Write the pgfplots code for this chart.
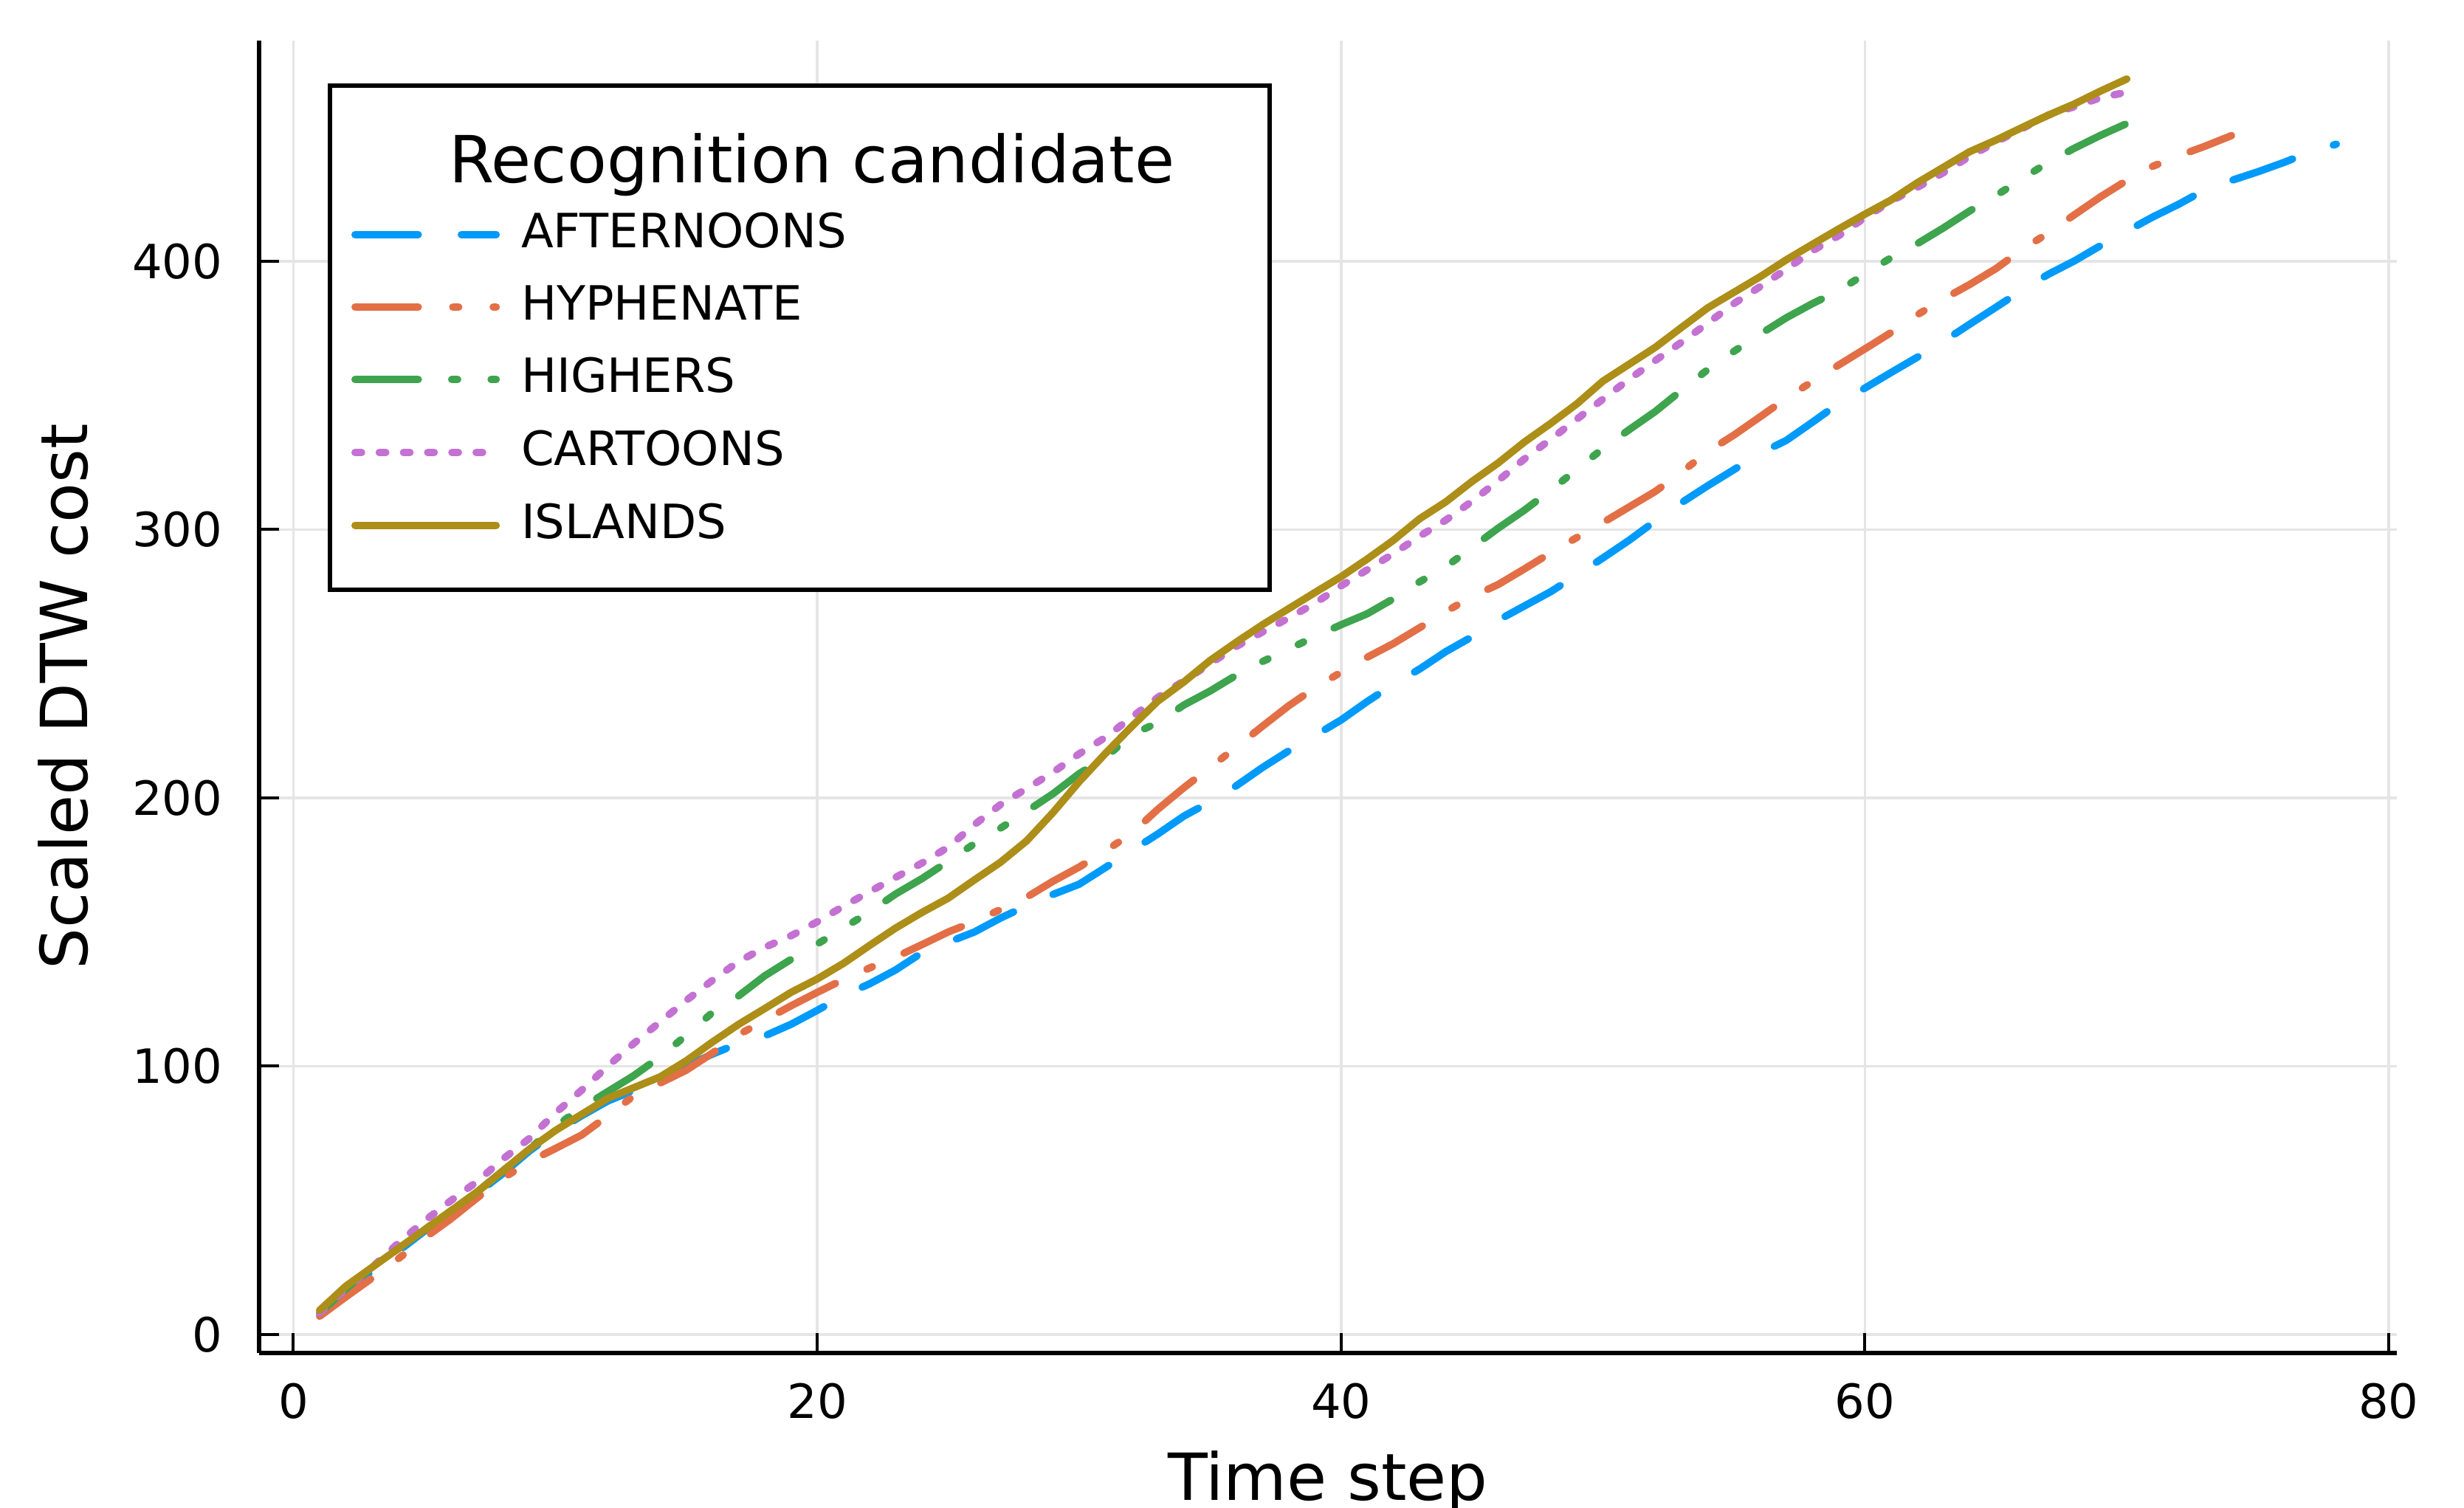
\documentclass[border=0pt]{standalone}
\usepackage{fontspec}
\setmainfont{DejaVu Sans}
\usepackage{pgfplots}
\pgfplotsset{compat=1.18}
\definecolor{cA}{RGB}{0,154,250}
\definecolor{cB}{RGB}{227,111,71}
\definecolor{cC}{RGB}{62,164,78}
\definecolor{cD}{RGB}{195,113,210}
\definecolor{cE}{RGB}{172,142,24}
\begin{document}
\begin{tikzpicture}
\begin{axis}[
  at={(0,0)}, anchor=south west,
  scale only axis, width=362pt, height=222.25pt,
  xmin=-1.31, xmax=80.31, ymin=-6.9, ymax=482.2,
  axis x line*=bottom, axis y line*=left,
  axis line style={line width=0.75pt, -},
  xtick={0,20,40,60,80}, ytick={0,100,200,300,400},
  tick align=inside, major tick length=3.4pt,
  tick style={line width=0.5pt, black},
  grid=major, major grid style={line width=0.45pt, black!10},
  /pgf/number format/assume math mode=true,
  ticklabel style={font=\fontsize{8}{9.6}\selectfont},
  xticklabel style={anchor=north, inner sep=0pt, yshift=-4.9pt},
  yticklabel style={anchor=east, inner sep=0pt, xshift=-6pt},
  xlabel={Time step}, ylabel={Scaled DTW cost},
  every axis x label/.style={at={(rel axis cs:0.5,-0.11204)}, anchor=base, inner sep=0pt, font=\fontsize{11}{13}\selectfont},
  every axis y label/.style={at={(rel axis cs:-0.0804,0.5)}, anchor=base, rotate=90, inner sep=0pt, font=\fontsize{11}{13}\selectfont},
  legend cell align=left,
  legend image code/.code={\draw[#1] (0pt,0pt) -- (23.9pt,0pt);},
  legend style={draw=none, fill=none, at={(rel axis cs:0.04316,0.869)}, anchor=north west,
    inner sep=0pt, outer sep=0pt, row sep=4.9pt, column sep=3.6pt,
    font=\fontsize{8}{9.6}\selectfont, nodes={inner sep=0pt}},
  every axis plot/.append style={line width=1.25pt, line cap=round, line join=round},
]
\filldraw[fill=white, draw=black, line width=0.8pt] (rel axis cs:0.03315,0.5816) rectangle (rel axis cs:0.4727,0.9657);
\node[anchor=base, inner sep=0pt, font=\fontsize{11}{13}\selectfont] at (rel axis cs:0.2586,0.892) {Recognition candidate};

\addplot[cA, dash pattern=on 10.7pt off 7.3pt] coordinates {
(1,7.9)(2,16)(3,23.5)(4,31)(5,38.5)(6,46)(7,52.5)(8,60)(9,68.3)(10,75.5)
(11,81.5)(12,87)(13,91)(14,95)(15,100)(16,104.5)(17,108.5)(18,111.3)(19,115.6)(20,120.8)
(21,126.3)(22,130.7)(23,135.9)(24,142.3)(25,146.2)(26,150)(27,155.2)(28,159.8)(29,164)(30,167.8)
(31,174)(32,180.3)(33,186.5)(34,193.2)(35,198.5)(36,204.5)(37,211.3)(38,217.5)(39,223.2)(40,229)
(41,235.9)(42,242.3)(43,248)(44,254.5)(45,260)(46,266.2)(47,271.5)(48,276.8)(49,283)(50,289.4)
(51,296)(52,303.2)(53,310)(54,316.3)(55,322.3)(56,328.4)(57,333.2)(58,340)(59,347)(60,352.7)
(61,358.5)(62,364.2)(63,370.1)(64,376.5)(65,382.8)(66,389.2)(67,395.1)(68,400.1)(69,405.8)(70,411.2)
(71,416.5)(72,421.3)(73,426.7)(74,430.1)(75,433.3)(76,436.8)(77,440.7)(78,443.6)};
\addlegendentry{AFTERNOONS}

\addplot[cB, dash pattern=on 10.7pt off 5.85pt on 1pt off 5.85pt] coordinates {
(1,6.8)(2,14)(3,21)(4,28.2)(5,35.9)(6,43)(7,50.8)(8,58.2)(9,64.4)(10,69.3)
(11,74.3)(12,81.5)(13,89)(14,93.7)(15,98.5)(16,104.9)(17,111.7)(18,117.2)(19,122.5)(20,127.5)
(21,132.3)(22,136.6)(23,140.7)(24,145.3)(25,150)(26,153.9)(27,158.4)(28,163)(29,168.9)(30,174.2)
(31,180.2)(32,186.7)(33,195.7)(34,203.8)(35,211.3)(36,218.9)(37,226.7)(38,234.3)(39,241)(40,246.8)
(41,252.4)(42,257.5)(43,263.4)(44,269.4)(45,275)(46,279.5)(47,285.3)(48,291.3)(49,297)(50,302.6)
(51,308.4)(52,314.2)(53,321.4)(54,329)(55,335.2)(56,342)(57,348.9)(58,355.2)(59,361.3)(60,367.3)
(61,373.4)(62,380)(63,385.9)(64,391.3)(65,397.2)(66,404.3)(67,410.5)(68,417.3)(69,424)(70,430.1)
(71,435.4)(72,439.3)(73,442.9)(74,446.8)};
\addlegendentry{HYPHENATE}

\addplot[cC, dash pattern=on 10.7pt off 5.67pt on 1pt off 5.67pt on 1pt off 5.67pt] coordinates {
(1,8)(2,17)(3,25)(4,32)(5,39)(6,46)(7,53)(8,61)(9,69)(10,77.5)
(11,84.5)(12,90.5)(13,96.5)(14,103.5)(15,111.5)(16,120)(17,126.2)(18,133.7)(19,139.8)(20,145.5)
(21,151.5)(22,157.5)(23,164.2)(24,169.9)(25,176.3)(26,182.9)(27,188.7)(28,195)(29,201.5)(30,209)
(31,215)(32,223.5)(33,228)(34,234.6)(35,239.8)(36,245.7)(37,250.8)(38,255.4)(39,260.1)(40,264.5)
(41,268.6)(42,274.2)(43,280.5)(44,286.1)(45,293.3)(46,300.5)(47,307.2)(48,314.6)(49,322.4)(50,330.2)
(51,337.2)(52,344)(53,351.9)(54,359.6)(55,366.4)(56,372.8)(57,378.9)(58,384.2)(59,389)(60,395.2)
(61,401.3)(62,406.5)(63,412.4)(64,418.7)(65,424.4)(66,430.7)(67,436.8)(68,442.1)(69,446.9)(70,451.3)
(71,456.1)};
\addlegendentry{HIGHERS}

\addplot[cD, dash pattern=on 1.1pt off 3pt] coordinates {
(1,8)(2,17)(3,25)(4,34)(5,42.3)(6,49.8)(7,56.9)(8,65.4)(9,73)(10,82.5)
(11,91)(12,100)(13,108.5)(14,116.5)(15,124.5)(16,132)(17,139)(18,144.3)(19,148.6)(20,153.8)
(21,159.6)(22,165)(23,170.4)(24,175.7)(25,181.6)(26,190)(27,197.5)(28,203.5)(29,209.5)(30,216.4)
(31,222.5)(32,230)(33,237.4)(34,243.6)(35,250)(36,256.4)(37,261.8)(38,267)(39,272.5)(40,279)
(41,285)(42,291)(43,297.5)(44,303.5)(45,310.5)(46,318.2)(47,326.3)(48,333.6)(49,341.1)(50,348.6)
(51,356)(52,363)(53,369.8)(54,376.9)(55,384.2)(56,390.5)(57,397)(58,403.9)(59,409.5)(60,416.2)
(61,422.4)(62,427.5)(63,433)(64,439)(65,444.4)(66,449.4)(67,454.4)(68,457.6)(69,460.9)(70,463)};
\addlegendentry{CARTOONS}

\addplot[cE] coordinates {
(1,9)(2,18)(3,25)(4,32)(5,39)(6,46)(7,53)(8,61)(9,69)(10,76)
(11,82)(12,88)(13,92)(14,96)(15,102)(16,109)(17,115.6)(18,121.5)(19,127.5)(20,132.5)
(21,138.3)(22,145)(23,151.5)(24,157.3)(25,162.6)(26,169.4)(27,176)(28,184)(29,194.5)(30,206)
(31,216.5)(32,226.5)(33,236)(34,243.2)(35,251.2)(36,258)(37,264.5)(38,270.5)(39,276.5)(40,282.4)
(41,289)(42,296)(43,304)(44,310.3)(45,317.9)(46,324.8)(47,332.6)(48,339.5)(49,346.8)(50,355.3)
(51,361.6)(52,367.9)(53,375.3)(54,382.6)(55,388.4)(56,394.2)(57,400.5)(58,406.3)(59,412)(60,417.5)
(61,422.8)(62,429.2)(63,435)(64,440.8)(65,445.1)(66,449.8)(67,454.4)(68,458.6)(69,463.4)(70,467.9)};
\addlegendentry{ISLANDS}
\end{axis}
\pgfresetboundingbox
\path[use as bounding box] (-43.875pt,-26.125pt) rectangle (373.375pt,229.125pt);
\end{tikzpicture}
\end{document}
